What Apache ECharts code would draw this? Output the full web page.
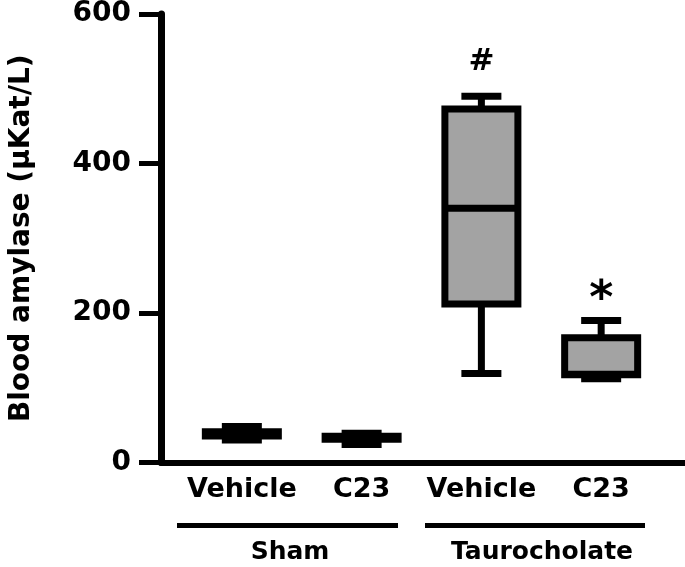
<!DOCTYPE html>
<html>
<head>
<meta charset="utf-8">
<script src="https://cdn.jsdelivr.net/npm/echarts@6/dist/echarts.min.js"></script>
<style>
  html, body { margin: 0; padding: 0; background: #fff; }
  #chart { width: 685px; height: 567px; }
</style>
</head>
<body>
<div id="chart"></div>
<script>
// values (µKat/L)
var categories = ["Vehicle", "C23", "Vehicle", "C23"];
var groups = ["Sham", "Taurocholate"];
var mins    = [30, 24, 119, 112];
var q1s     = [35.6, 31, 212, 117.5];
var medians = [38, 33, 340, 118];
var q3s     = [41, 35, 473, 167];
var maxs    = [48, 39, 490, 190];
var marks   = ["", "", "#", "*"];
var yTicks  = [0, 200, 400, 600];

var FONT = "DejaVu Sans";
var chartDom = document.getElementById("chart");
var myChart = echarts.init(chartDom);

var boxData = categories.map(function (c, i) {
  return [i, mins[i], q1s[i], medians[i], q3s[i], maxs[i]];
});

var markData = [];
marks.forEach(function (m, i) {
  if (!m) return;
  markData.push({
    value: [i, maxs[i]],
    label: {
      show: true,
      position: "top",
      formatter: m,
      color: "#000",
      opacity: 1,
      fontFamily: FONT,
      fontWeight: "bold",
      fontSize: m === "*" ? 46 : 31,
      distance: m === "*" ? -4 : 19
    }
  });
});

function renderBox(params, api) {
  var x = api.value(0);
  var lo = api.coord([x, api.value(1)]);
  var q1 = api.coord([x, api.value(2)]);
  var md = api.coord([x, api.value(3)]);
  var q3 = api.coord([x, api.value(4)]);
  var hi = api.coord([x, api.value(5)]);
  var cx = lo[0];
  var boxW = 73, capW = 40;
  var lineStyle = { stroke: "#000", lineWidth: 7 };
  return {
    type: "group",
    children: [
      { type: "line", shape: { x1: cx, y1: lo[1], x2: cx, y2: hi[1] }, style: lineStyle },
      { type: "line", shape: { x1: cx - capW / 2, y1: hi[1], x2: cx + capW / 2, y2: hi[1] }, style: lineStyle },
      { type: "line", shape: { x1: cx - capW / 2, y1: lo[1], x2: cx + capW / 2, y2: lo[1] }, style: lineStyle },
      {
        type: "rect",
        shape: { x: cx - boxW / 2, y: q3[1], width: boxW, height: q1[1] - q3[1] },
        style: { fill: "#a3a3a3", stroke: "#000", lineWidth: 7 }
      },
      { type: "line", shape: { x1: cx - boxW / 2, y1: md[1], x2: cx + boxW / 2, y2: md[1] }, style: lineStyle }
    ]
  };
}

var option = {
  animation: false,
  backgroundColor: "#fff",
  grid: { left: 160, right: 0, top: 12.5, bottom: 104.5, containLabel: false },
  xAxis: {
    type: "value",
    min: -0.675,
    max: 3.7,
    splitLine: { show: false },
    axisTick: { show: false },
    axisLine: { show: true, onZero: false, lineStyle: { color: "#000", width: 6 } },
    axisLabel: {
      customValues: [0, 1, 2, 3],
      formatter: function (v) { return categories[Math.round(v)]; },
      color: "#000",
      fontFamily: FONT,
      fontWeight: "bold",
      fontSize: 27,
      margin: 14
    }
  },
  yAxis: {
    type: "value",
    min: 0,
    max: 600,
    interval: 200,
    splitLine: { show: false },
    axisLine: { show: true, onZero: false, lineStyle: { color: "#000", width: 7 } },
    axisTick: { show: true, length: 22, lineStyle: { color: "#000", width: 5 } },
    axisLabel: {
      color: "#000",
      fontFamily: FONT,
      fontWeight: "bold",
      fontSize: 28,
      margin: 30,
      formatter: function (v) { return yTicks.indexOf(v) >= 0 ? String(v) : ""; }
    },
    name: "Blood amylase (µKat/L)",
    nameLocation: "middle",
    nameGap: 125,
    nameTextStyle: { color: "#000", fontFamily: FONT, fontWeight: "bold", fontSize: 28 }
  },
  series: [
    {
      type: "custom",
      renderItem: renderBox,
      encode: { x: 0, y: [1, 2, 3, 4, 5] },
      data: boxData
    },
    {
      type: "scatter",
      symbolSize: 0,
      z: 5,
      itemStyle: { opacity: 1 },
      label: {
        show: true,
        position: "top",
        color: "#000",
        fontFamily: FONT,
        fontWeight: "bold"
      },
      data: markData
    }
  ],
  graphic: [
    { type: "line", shape: { x1: 177, y1: 525.5, x2: 398, y2: 525.5 }, style: { stroke: "#000", lineWidth: 5 } },
    { type: "line", shape: { x1: 425, y1: 525.5, x2: 645, y2: 525.5 }, style: { stroke: "#000", lineWidth: 5 } },
    {
      type: "text", x: 290, y: 552,
      style: { text: groups[0], fill: "#000", font: "bold 25px 'DejaVu Sans'", align: "center", verticalAlign: "middle" }
    },
    {
      type: "text", x: 542, y: 552,
      style: { text: groups[1], fill: "#000", font: "bold 25px 'DejaVu Sans'", align: "center", verticalAlign: "middle" }
    }
  ]
};

option && myChart.setOption(option);
</script>
</body>
</html>
